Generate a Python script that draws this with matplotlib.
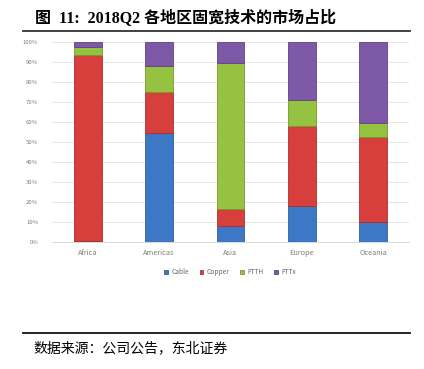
import numpy as np
import matplotlib.pyplot as plt
from matplotlib.ticker import PercentFormatter

plt.rcParams['font.family'] = ['Noto Sans CJK SC', 'DejaVu Sans']

regions = ["Africa", "Americas", "Asia", "Europe", "Oceania"]
techs = ["Cable", "Copper", "FTTH", "FTTx"]
cable = [0.5, 54.5, 8.0, 18.0, 10.0]
copper = [93.0, 20.5, 8.5, 40.0, 42.5]
ftth = [4.0, 13.0, 73.0, 13.0, 7.0]
fttx = [2.5, 12.0, 10.5, 29.0, 40.5]

colors = ["#3d78c6", "#d73f3d", "#96c242", "#7d58a6"]
edges = ["#2f5f9e", "#a83030", "#76992f", "#5f4382"]

fig = plt.figure(figsize=(4.24, 3.69), dpi=100)
ax = fig.add_axes([52 / 424, 1 - 242.3 / 369, 357 / 424, 200 / 369])

x = np.arange(len(regions))
bottom = np.zeros(len(regions))
for vals, name, c, e in zip([cable, copper, ftth, fttx], techs, colors, edges):
    ax.bar(x, vals, 0.39, bottom=bottom, color=c, edgecolor=e, linewidth=0.6,
           label=name, zorder=3)
    bottom += np.array(vals)

ax.set_xlim(-0.5, 4.5)
ax.set_ylim(0, 100)
ax.set_yticks(np.arange(0, 101, 10))
ax.yaxis.set_major_formatter(PercentFormatter(decimals=0))
ax.set_xticks(x)
ax.set_xticklabels(regions)
ax.tick_params(axis='y', length=0, labelsize=4.3, labelcolor='#7f7f7f', pad=10)
ax.tick_params(axis='x', length=0, labelsize=5.3, labelcolor='#7f7f7f', pad=5)
ax.grid(axis='y', color='#e6e6e6', linewidth=0.7, zorder=0)
for s in ['top', 'right', 'left']:
    ax.spines[s].set_visible(False)
ax.spines['bottom'].set_color('#d9d9d9')
ax.spines['bottom'].set_linewidth(0.7)

leg = fig.legend(loc='center', bbox_to_anchor=(230 / 424, 1 - 272 / 369), ncol=4,
                 frameon=False, fontsize=4.8, handlelength=0.55, handleheight=0.55,
                 handletextpad=0.5, columnspacing=1.6, labelcolor='#666666')

fig.text(35 / 424, 1 - 18 / 369, "图  11:  2018Q2 各地区固宽技术的市场占比",
         family=['Liberation Serif', 'Noto Sans CJK SC'],
         fontsize=11.5, fontweight='bold', va='center', ha='left')
fig.add_artist(plt.Line2D([23 / 424, 410 / 424], [1 - 31 / 369] * 2, color='#333333', linewidth=1.3))
fig.add_artist(plt.Line2D([23 / 424, 410 / 424], [1 - 332.7 / 369] * 2, color='#111111', linewidth=1.3))
fig.text(33 / 424, 1 - 348 / 369, "数据来源：公司公告，东北证券", fontsize=10,
         va='center', ha='left')

fig.savefig("out.png", dpi=100)
